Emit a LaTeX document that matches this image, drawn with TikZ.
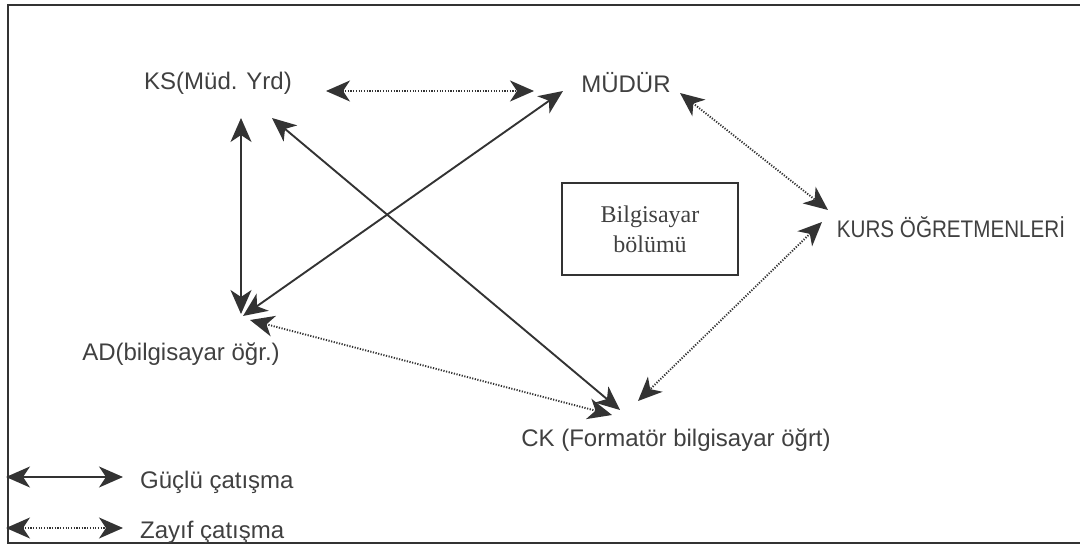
\documentclass[tikz,border=0pt]{standalone}
\usepackage{fontspec}
\setmainfont{Liberation Sans}
\newfontfamily\boxfont{Liberation Serif}
\usetikzlibrary{arrows.meta}
\definecolor{ink}{HTML}{333333}
\definecolor{txt}{HTML}{404040}
\begin{document}
\begin{tikzpicture}[x=1pt,y=-1pt,
  lbl/.style={inner sep=0pt,text=txt,font=\fontsize{24}{27}\selectfont},
  strong/.style={draw=ink,line width=1.9pt,{Stealth[length=24pt,width=21pt,inset=7pt]}-{Stealth[length=24pt,width=21pt,inset=7pt]}},
  weak/.style={draw=ink,line width=1.9pt,dash pattern=on 1.2pt off 1.5pt,{Stealth[length=24pt,width=21pt,inset=7pt]}-{Stealth[length=24pt,width=21pt,inset=7pt]}},
  frame/.style={draw=ink,line width=1.3pt}]
\useasboundingbox (0,0) rectangle (1080,548);
% frame (open on the right)
\coordinate (f1) at (1080,5);
\coordinate (f2) at (8,5);
\coordinate (f3) at (8,543);
\coordinate (f4) at (1080,543);
\draw[frame] (f1) -- (f2) -- (f3) -- (f4);
% labels
\node[lbl] (ks) at (218,83) {KS(Müd. Yrd)};
\node[lbl] (mudur) at (626,83) {MÜDÜR};
\node[lbl] (kurs) at (951,227) {\scalebox{0.86}[1]{KURS ÖĞRETMENLERİ}};
\node[lbl] (ad) at (181,354) {AD(bilgisayar öğr.)};
\node[lbl] (ck) at (676,440) {CK (Formatör bilgisayar öğrt)};
\node[draw=ink,line width=1.3pt,minimum width=176pt,minimum height=92pt,inner sep=0pt,
      align=center,text=txt,font=\boxfont\fontsize{24}{30}\selectfont] (box) at (650,229) {Bilgisayar\\bölümü};
% arrow end points
\coordinate (ksR) at (326,91);
\coordinate (muL) at (534,91);
\coordinate (ksB) at (241,118);
\coordinate (adT) at (241,314);
\coordinate (muBL) at (563,91);
\coordinate (adTR) at (243,316);
\coordinate (ksBR) at (272,118);
\coordinate (ckT) at (620,410);
\coordinate (adR) at (250,320);
\coordinate (ckL) at (612,415);
\coordinate (muBR) at (680,93);
\coordinate (kuL) at (828,210);
\coordinate (kuBL) at (822,222);
\coordinate (ckTR) at (638,401);
% connectors
\draw[weak] (ksR) -- (muL);
\draw[strong] (ksB) -- (adT);
\draw[strong] (muBL) -- (adTR);
\draw[strong] (ksBR) -- (ckT);
\draw[weak] (adR) -- (ckL);
\draw[weak] (muBR) -- (kuL);
\draw[weak] (kuBL) -- (ckTR);
% legend
\coordinate (l1a) at (6,477);
\coordinate (l1b) at (123,477);
\coordinate (l2a) at (6,528);
\coordinate (l2b) at (123,528);
\draw[strong] (l1a) -- (l1b);
\draw[weak] (l2a) -- (l2b);
\node[lbl,anchor=west] (lg1) at (140,482) {Güçlü çatışma};
\node[lbl,anchor=west] (lg2) at (140,532) {Zayıf çatışma};
\end{tikzpicture}
\end{document}
